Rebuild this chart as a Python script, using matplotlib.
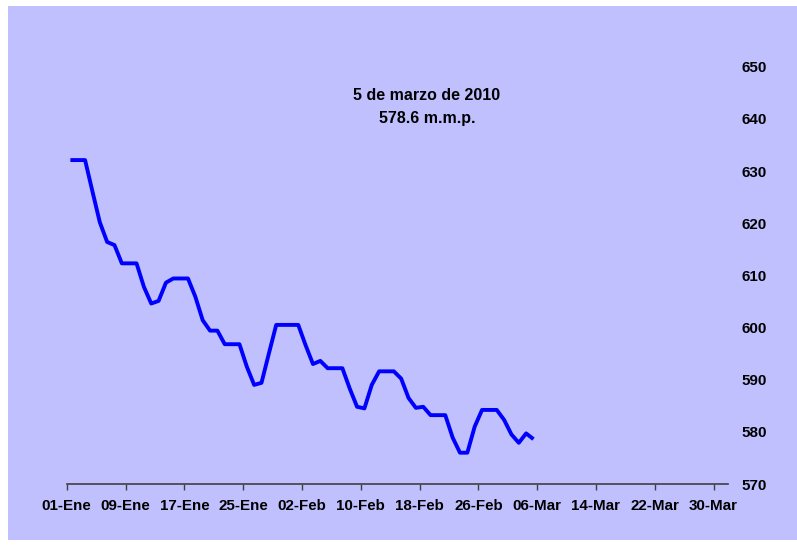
import matplotlib
matplotlib.use("Agg")
import matplotlib.pyplot as plt
import matplotlib.dates as mdates
from matplotlib.patches import Rectangle
import numpy as np
import datetime as dt

plt.rcParams['font.family'] = ['Liberation Sans', 'DejaVu Sans']

values = [632.1, 632.1, 632.1, 626.1, 620.2, 616.4, 615.8, 612.3, 612.3, 612.3,
          607.8, 604.6, 605.1, 608.6, 609.4, 609.4, 609.4, 605.9, 601.4, 599.4,
          599.4, 596.8, 596.8, 596.8, 592.5, 589.0, 589.4, 595.0, 600.5, 600.5,
          600.5, 600.5, 596.6, 593.0, 593.6, 592.2, 592.2, 592.2, 588.3, 584.8,
          584.5, 589.0, 591.6, 591.6, 591.6, 590.2, 586.5, 584.6, 584.8, 583.2,
          583.2, 583.2, 578.9, 576.0, 576.0, 581.0, 584.2, 584.2, 584.2, 582.3,
          579.5, 577.9, 579.7, 578.6]
dates = [dt.datetime(2010, 1, 1) + dt.timedelta(days=i) for i in range(len(values))]

tick_dates = [dt.datetime(2010, 1, 1) + dt.timedelta(days=8 * i) for i in range(12)]
tick_labels = ['01-Ene', '09-Ene', '17-Ene', '25-Ene', '02-Feb', '10-Feb',
               '18-Feb', '26-Feb', '06-Mar', '14-Mar', '22-Mar', '30-Mar']
y_ticks = [570, 580, 590, 600, 610, 620, 630, 640, 650]
annotation = "5 de marzo de 2010\n578.6 m.m.p."

bg = '#C0C0FF'
fig = plt.figure(figsize=(7.97, 5.45), dpi=100, facecolor='white')
fig.patches.append(Rectangle((8 / 797, 1 - 540 / 545), (797 - 8) / 797, (540 - 6) / 545,
                             transform=fig.transFigure, facecolor=bg, edgecolor='none', zorder=-10))

ax = fig.add_axes([66.7 / 797, 1 - 484 / 545, (728.3 - 66.7) / 797, (484 - 66.7) / 545])
ax.set_facecolor('none')
ax.set_zorder(5)

x = [mdates.date2num(d) + 0.5 for d in dates]
ax.plot(x, values, color='#0000FF', lw=2.8, solid_joinstyle='round', solid_capstyle='butt')

ax.set_xlim(mdates.date2num(dt.datetime(2010, 1, 1)), mdates.date2num(dt.datetime(2010, 4, 1)))
ax.set_ylim(570, 650)
ax.set_xticks([mdates.date2num(d) for d in tick_dates])
ax.set_xticklabels(tick_labels, fontsize=10.9, fontweight='bold')
ax.set_yticks(y_ticks)
ax.set_yticklabels([str(v) for v in y_ticks], fontsize=10.9, fontweight='bold')
ax.yaxis.tick_right()
ax.tick_params(axis='y', length=0, pad=9.3)
ax.tick_params(axis='x', length=4, width=1, color='#404040', direction='out', pad=6.5)

for s in ['top', 'left', 'right']:
    ax.spines[s].set_visible(False)
ax.spines['bottom'].set_color('#404040')
ax.spines['bottom'].set_linewidth(1.2)

fig.text(427 / 797, 1 - 107 / 545, annotation, ha='center', va='center',
         fontsize=11.5, fontweight='bold', linespacing=1.6, zorder=6)

fig.savefig('out.png', dpi=100, facecolor='white')
